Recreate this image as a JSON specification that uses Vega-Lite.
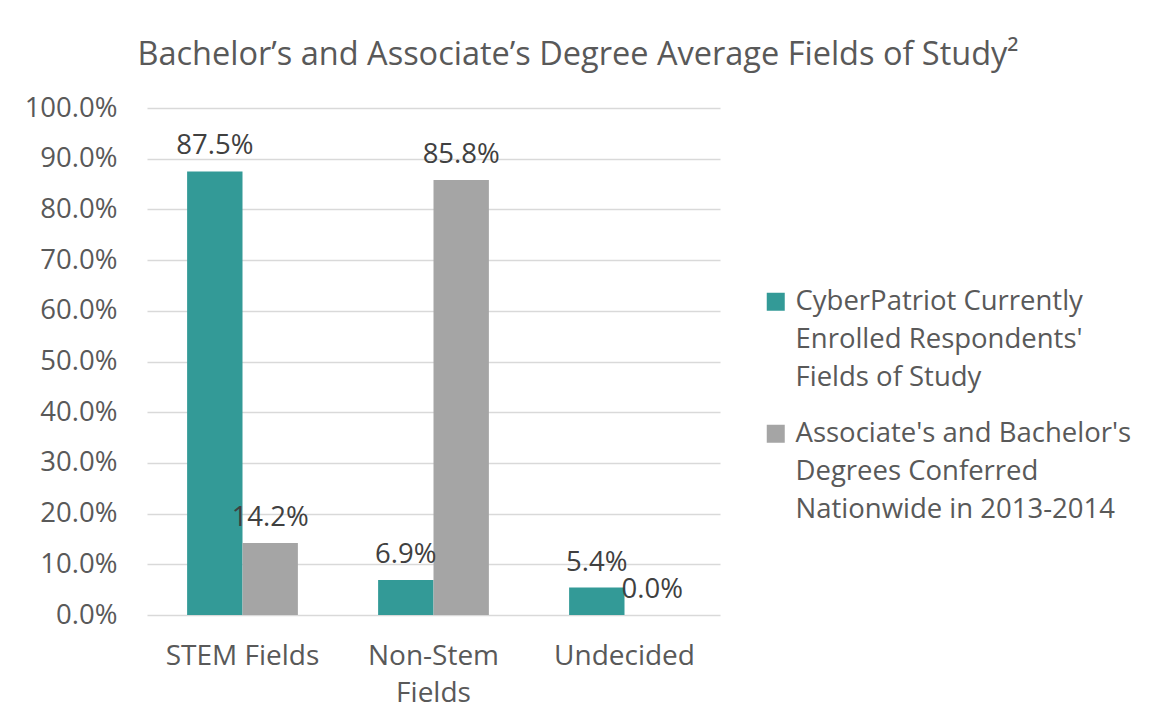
{
  "$schema": "https://vega.github.io/schema/vega-lite/v6.json",
  "width": 573,
  "height": 507,
  "autosize": {"type": "none"},
  "padding": {"left": 147, "top": 108, "right": 435, "bottom": 110},
  "background": "white",
  "title": {
    "text": "Bachelor’s and Associate’s Degree Average Fields of Study²",
    "frame": "bounds",
    "anchor": "middle",
    "font": "Open Sans",
    "fontSize": 32.5,
    "fontWeight": "normal",
    "color": "#595959",
    "offset": 23
  },
  "data": {
    "values": [
      {"field": "STEM Fields", "series": "CyberPatriot Currently Enrolled Respondents' Fields  of Study", "value": 0.875},
      {"field": "STEM Fields", "series": "Associate's and Bachelor's Degrees Conferred Nationwide in 2013-2014", "value": 0.142},
      {"field": "Non-Stem Fields", "series": "CyberPatriot Currently Enrolled Respondents' Fields  of Study", "value": 0.069},
      {"field": "Non-Stem Fields", "series": "Associate's and Bachelor's Degrees Conferred Nationwide in 2013-2014", "value": 0.858},
      {"field": "Undecided", "series": "CyberPatriot Currently Enrolled Respondents' Fields  of Study", "value": 0.054},
      {"field": "Undecided", "series": "Associate's and Bachelor's Degrees Conferred Nationwide in 2013-2014", "value": 0.0}
    ]
  },
  "encoding": {
    "x": {
      "field": "field",
      "type": "nominal",
      "sort": ["STEM Fields", "Non-Stem Fields", "Undecided"],
      "scale": {"paddingInner": 0.42, "paddingOuter": 0.21},
      "axis": {
        "title": null,
        "labelAngle": 0,
        "ticks": false,
        "domain": false,
        "labelPadding": 27,
        "labelFont": "Open Sans",
        "labelFontSize": 28,
        "labelColor": "#595959",
        "labelLineHeight": 37,
        "labelExpr": "datum.label == 'Non-Stem Fields' ? ['Non-Stem', 'Fields'] : datum.label"
      }
    },
    "xOffset": {
      "field": "series",
      "type": "nominal",
      "sort": ["CyberPatriot Currently Enrolled Respondents' Fields  of Study", "Associate's and Bachelor's Degrees Conferred Nationwide in 2013-2014"],
      "scale": {"paddingInner": 0, "paddingOuter": 0}
    },
    "y": {
      "field": "value",
      "type": "quantitative",
      "scale": {"domain": [0, 1], "nice": false},
      "axis": {
        "title": null,
        "format": ".1%",
        "values": [0, 0.1, 0.2, 0.3, 0.4, 0.5, 0.6, 0.7, 0.8, 0.9, 1.0],
        "ticks": false,
        "domain": false,
        "labelPadding": 30,
        "labelFont": "Open Sans",
        "labelFontSize": 27.5,
        "labelColor": "#595959",
        "gridColor": "#D9D9D9",
        "gridWidth": 1.5
      }
    }
  },
  "layer": [
    {
      "mark": {"type": "bar"},
      "encoding": {
        "color": {
          "field": "series",
          "type": "nominal",
          "sort": ["CyberPatriot Currently Enrolled Respondents' Fields  of Study", "Associate's and Bachelor's Degrees Conferred Nationwide in 2013-2014"],
          "scale": {"range": ["#339A97", "#A5A5A5"]},
          "legend": {
            "title": null,
            "orient": "none",
            "legendX": 615,
            "legendY": 180,
            "symbolType": "square",
            "symbolSize": 324,
            "symbolStrokeWidth": 0,
            "symbolOpacity": 1,
            "labelFont": "Open Sans",
            "labelFontSize": 27.5,
            "labelColor": "#595959",
            "labelLimit": 400,
            "labelOffset": 6,
            "rowPadding": 27,
            "labelExpr": "datum.label == 'CyberPatriot Currently Enrolled Respondents\\' Fields  of Study' ? ['CyberPatriot Currently', 'Enrolled Respondents\\'', 'Fields  of Study'] : ['Associate\\'s and Bachelor\\'s', 'Degrees Conferred', 'Nationwide in 2013-2014']"
          }
        }
      }
    },
    {
      "mark": {
        "type": "text",
        "baseline": "bottom",
        "dy": -11,
        "font": "Open Sans",
        "fontSize": 27.5,
        "color": "#404040"
      },
      "encoding": {
        "text": {"field": "value", "type": "quantitative", "format": ".1%"}
      }
    }
  ],
  "config": {
    "view": {"stroke": null},
    "style": {"guide-label": {"lineHeight": 38}}
  }
}
